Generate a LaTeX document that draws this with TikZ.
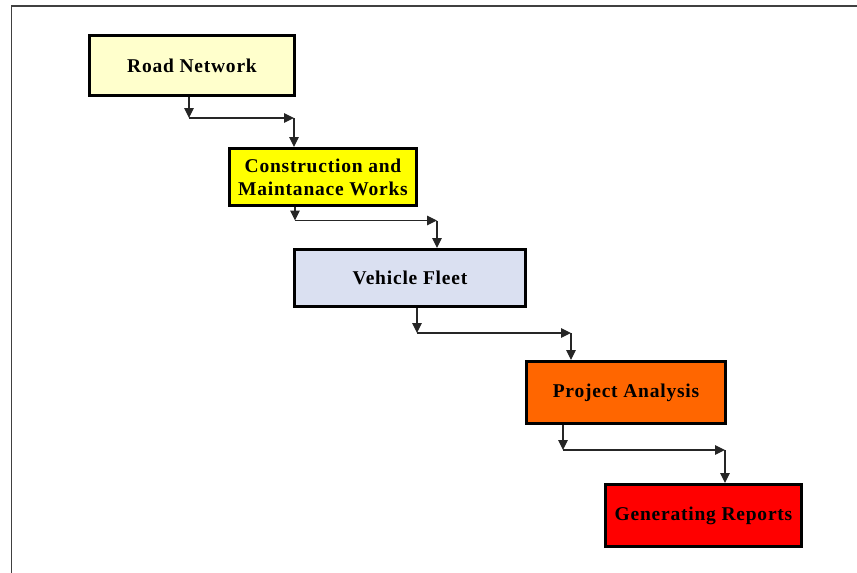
\documentclass[tikz,border=0pt]{standalone}
\usepackage{fontspec}
\setmainfont{Liberation Serif}
\usetikzlibrary{arrows.meta}

\definecolor{roadfill}{HTML}{FFFFCC}
\definecolor{workfill}{HTML}{FFFF00}
\definecolor{fleetfill}{HTML}{DAE0F1}
\definecolor{analysisfill}{HTML}{FF6600}
\definecolor{reportfill}{HTML}{FF0000}

\tikzset{
  stagebox/.style={draw=black, line width=3pt, inner sep=0pt, align=center,
    font=\fontsize{19.5}{23}\selectfont\bfseries\addfontfeature{LetterSpace=4},
    text=black},
  flow/.style={draw=black!85, line width=1.1pt,
    -{Triangle[length=10pt,width=9.5pt]}},
  frameline/.style={draw=black!75, line width=1.6pt}
}

\begin{document}
\begin{tikzpicture}[x=1pt,y=-1pt]
  \useasboundingbox (0,0) rectangle (857,573);

  % outer frame (top and left edges only)
  \draw[frameline] (857,6) -- (11.5,6) -- (11.5,573);

  % process stages
  \node[stagebox, fill=roadfill, minimum width=205pt, minimum height=60pt]
    (road) at (192,65.5) {Road Network};
  \node[stagebox, fill=workfill, minimum width=187pt, minimum height=57pt]
    (works) at (323,177) {Construction and\\Maintanace Works};
  \node[stagebox, fill=fleetfill, minimum width=231pt, minimum height=57pt]
    (fleet) at (410,278) {Vehicle Fleet};
  \node[stagebox, fill=analysisfill, minimum width=199pt, minimum height=62pt]
    (analysis) at (626,392.5) {Project Analysis};
  \node[stagebox, fill=reportfill, minimum width=196pt, minimum height=62pt]
    (reports) at (703.5,515.5) {Generating Reports};

  % elbow points of the stepped connectors
  \coordinate (s1a) at (189,118);
  \coordinate (s1b) at (294,118);
  \coordinate (s2a) at (295,220.5);
  \coordinate (s2b) at (437,220.5);
  \coordinate (s3a) at (417,333);
  \coordinate (s3b) at (571,333);
  \coordinate (s4a) at (563,450);
  \coordinate (s4b) at (725,450);

  % connectors
  \draw[flow] (road.south -| s1a) -- (s1a);
  \draw[flow] (s1a) -- (s1b);
  \draw[flow] (s1b) -- (s1b |- works.north);

  \draw[flow] (works.south -| s2a) -- (s2a);
  \draw[flow] (s2a) -- (s2b);
  \draw[flow] (s2b) -- (s2b |- fleet.north);

  \draw[flow] (fleet.south -| s3a) -- (s3a);
  \draw[flow] (s3a) -- (s3b);
  \draw[flow] (s3b) -- (s3b |- analysis.north);

  \draw[flow] (analysis.south -| s4a) -- (s4a);
  \draw[flow] (s4a) -- (s4b);
  \draw[flow] (s4b) -- (s4b |- reports.north);
\end{tikzpicture}
\end{document}
